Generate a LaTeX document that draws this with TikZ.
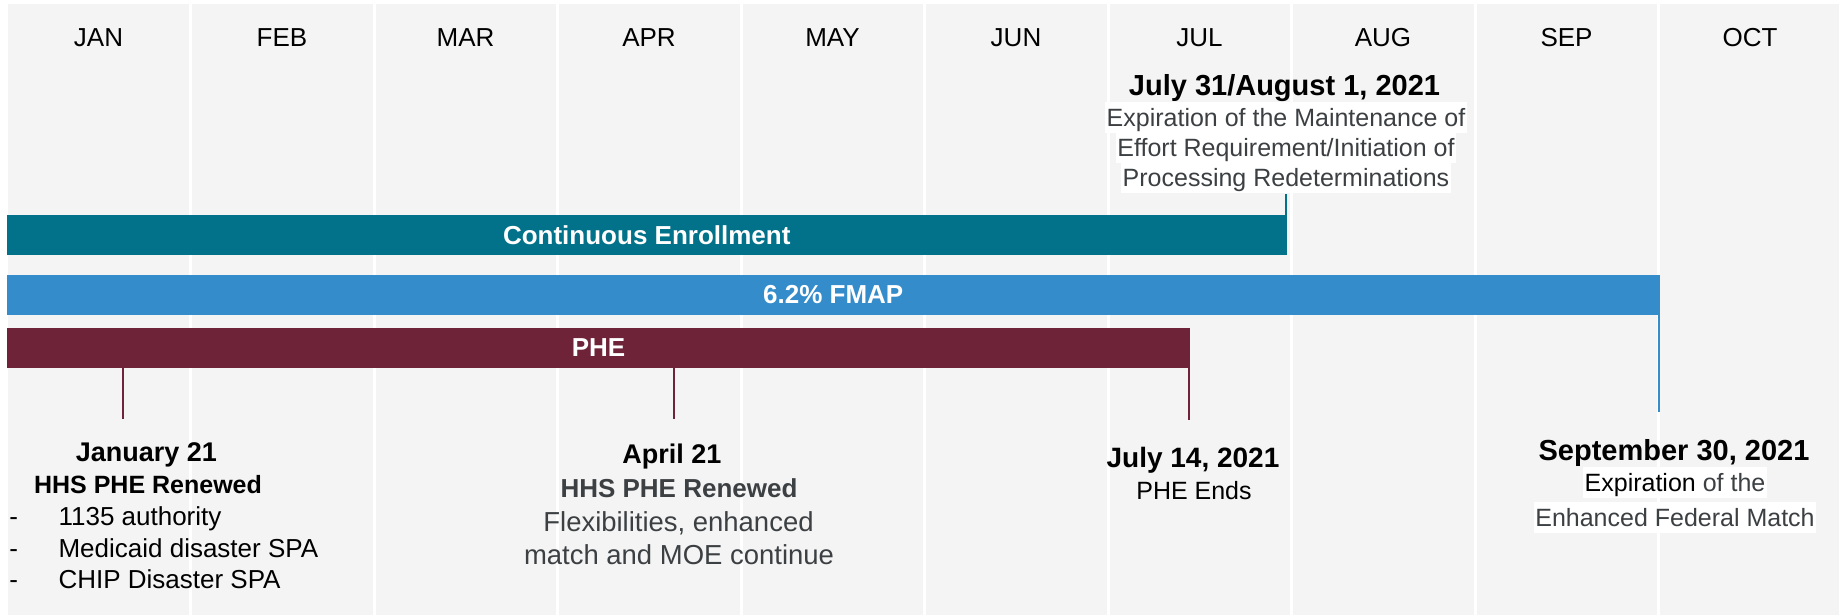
\documentclass[tikz,border=0pt]{standalone}
\usepackage{fontspec}
\setmainfont{Liberation Sans}
\definecolor{bggray}{HTML}{F4F4F4}
\definecolor{ceteal}{HTML}{02728A}
\definecolor{fmapblue}{HTML}{358CCB}
\definecolor{phemaroon}{HTML}{6E2338}
\definecolor{txtgray}{HTML}{3C4043}
\newcommand\fsz[1]{\fontsize{#1}{#1}\selectfont}
\begin{document}
\begin{tikzpicture}[x=0.75pt,y=-0.75pt,
  month/.style={anchor=base,inner sep=0pt,font=\fsz{19.5pt},text=black},
  bar/.style={inner sep=0pt,minimum height=30pt,text=white,font=\bfseries\fsz{19.5pt}},
  date/.style={anchor=base,inner sep=0pt,font=\bfseries\fsz{#1},text=black},
  desc/.style={anchor=base,inner sep=0pt,font=\fsz{#1},text=txtgray},
  hl/.style={anchor=base,inner xsep=1.2pt,inner ysep=0pt,fill=white,text height=18.3pt,text depth=5pt},
  tick/.style={line width=1.5pt}
]
\useasboundingbox (0,0) rectangle (1839,615);
% background columns
\fill[bggray] (8,4) rectangle (1839,615);
\foreach \k in {1,...,9}
  \fill[white] ({7.2+183.5*\k-1.35},4) rectangle ({7.2+183.5*\k+1.35},615);
% month labels
\foreach \m [count=\i from 0] in {JAN,FEB,MAR,APR,MAY,JUN,JUL,AUG,SEP,OCT}
  \node[month] (m\i) at ({98.5+183.5*\i},46) {\m};
% bars
\node[bar,fill=ceteal,minimum width=959.625pt] (ce) at (646.75,235) {Continuous Enrollment};
\node[bar,fill=fmapblue,minimum width=1239.375pt] (fmap) at (833.25,295) {6.2\% FMAP};
\node[bar,fill=phemaroon,minimum width=887.25pt] (phe) at (598.5,348) {PHE};
% tick end points
\coordinate (tjul) at (1285.7,194);
\coordinate (tjan) at (123,419);
\coordinate (tapr) at (674.4,419);
\coordinate (tphe) at (1188.7,420);
\coordinate (tsep) at (1659.3,412);
\draw[tick,ceteal] (ce.north -| tjul) -- (tjul);
\draw[tick,phemaroon] (phe.south -| tjan) -- (tjan);
\draw[tick,phemaroon] (phe.south -| tapr) -- (tapr);
\draw[tick,phemaroon] (phe.south -| tphe) -- (tphe);
\draw[tick,fmapblue] (fmap.south -| tsep) -- (tsep);
% July 31 / August 1
\node[date=21.75pt] (jul31) at (1284.5,95) {July 31/August 1, 2021};
\node[desc=18.75pt,hl] (jul31a) at (1286,126) {Expiration of the Maintenance of};
\node[desc=18.75pt,hl] (jul31b) at (1286,156) {Effort Requirement/Initiation of};
\node[desc=18.75pt,hl] (jul31c) at (1286,186.7) {Processing Redeterminations};
% January 21
\node[date=20.25pt] (jan21) at (146.5,461.7) {January 21};
\node[date=18.75pt] (jan21h) at (148,493.3) {HHS PHE Renewed};
\foreach \t/\yy [count=\j] in {1135 authority/525,Medicaid disaster SPA/557.3,CHIP Disaster SPA/588.3}{
  \node[desc=19.5pt,text=black,anchor=base west] (jb\j) at (58.3,\yy) {\t};
  \node[desc=19.5pt,text=black,anchor=base west] (jd\j) at (9,\yy) {-};
}
% April 21
\node[date=20.25pt] (apr21) at (672,463.3) {April 21};
\node[date=19.5pt,text=txtgray] (apr21h) at (679,497) {HHS PHE Renewed};
\node[desc=20.6pt] (apr21a) at (678.5,531.7) {Flexibilities, enhanced};
\node[desc=20.6pt] (apr21b) at (679,564) {match and MOE continue};
% July 14
\node[date=21pt] (jul14) at (1193,467.3) {July 14, 2021};
\node[desc=18.75pt,text=black] (jul14a) at (1194,499) {PHE Ends};
% September 30
\node[date=21.75pt] (sep30) at (1674,460.7) {September 30, 2021};
\node[desc=18.75pt,hl] (sep30a) at (1675,491.7) {\textcolor{black}{Expiration} of the};
\node[desc=18.75pt,hl] (sep30b) at (1675,526.7) {Enhanced Federal Match};
\end{tikzpicture}
\end{document}
